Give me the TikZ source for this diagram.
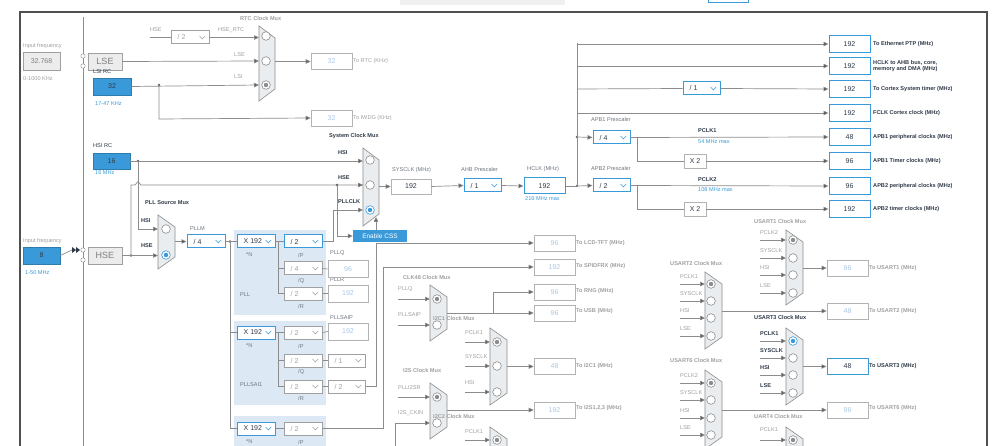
\documentclass[tikz,border=0pt]{standalone}
\usepackage{fontspec}
\setmainfont{Liberation Sans}
\usetikzlibrary{arrows.meta}
\definecolor{bl}{HTML}{3A9AD9}
\definecolor{ln}{HTML}{8C8C8C}
\definecolor{pale}{HTML}{A9C7E6}
\definecolor{reg}{HTML}{DCE9F5}
\definecolor{muxf}{HTML}{E9EDF0}
\definecolor{txt}{HTML}{2F3A48}
\definecolor{lt}{HTML}{A0A0A0}
\definecolor{frm}{HTML}{505050}
\tikzset{
 every node/.style={font=\fontsize{5.6}{6.5}\selectfont, inner sep=0pt},
 lab/.style={anchor=west, text=lt},
 dlab/.style={anchor=west, text=txt, font=\fontsize{5.6}{6.5}\selectfont\bfseries},
 tlab/.style={anchor=west, text=lt, font=\fontsize{5.6}{6.5}\selectfont\bfseries},
 olab/.style={anchor=west, text=txt, font=\fontsize{5.6}{6.5}\selectfont\bfseries, align=left},
 blab/.style={anchor=west, text=bl},
 box/.style={draw=lt!80, fill=white, minimum width=41pt, minimum height=16pt, text=pale, font=\fontsize{7}{8}\selectfont, line width=0.6pt},
 vbox/.style={box, text=txt},
 abox/.style={box, draw=bl, line width=1pt, text=txt},
 fbox/.style={box, fill=bl, draw=bl!80!black, text=txt},
 gbox/.style={box, fill=gray!15, draw=lt, text=gray},
 dd/.style={fill=white, minimum height=13pt, line width=1pt},
 wire/.style={draw=ln, line width=0.7pt},
 arr/.style={wire, -{Triangle[length=5pt,width=4.5pt,fill=ln!60!black]}},
 muxs/.style={draw=ln, fill=muxf, line width=0.6pt},
 dot/.style={circle, fill=ln!70!black, minimum size=2.6pt},
}
\newcommand\muxT[4]{\draw[muxs] (#1,#2) -- ({#1+#4},{#2+12}) -- ({#1+#4},{#3-12}) -- (#1,#3) -- cycle;}
\newcommand\circO[2]{\draw[ln,fill=white,line width=0.6pt] (#1,#2) circle[radius=4.3pt];}
\newcommand\circS[3]{\draw[#3,fill=white,line width=0.6pt] (#1,#2) circle[radius=4.3pt]; \fill[#3] (#1,#2) circle[radius=2.2pt];}
\newcommand\ddrop[7]{\node[dd,draw=#6,minimum width=#4pt] (#1) at (#2,#3) {};
 \node[anchor=west,text=#7,font=\fontsize{7}{8}\selectfont] at ([xshift=7pt]#1.west) {#5};
 \draw[#6,line width=0.5pt] ([xshift=-10pt,yshift=1.4pt]#1.east) -- ++(2.8,2.8) -- ++(2.8,-2.8);}
\begin{document}
\begin{tikzpicture}[x=1pt,y=-1pt]
\useasboundingbox (0,0) rectangle (998,446);
\clip (0,0) rectangle (998,446);
\fill[white] (0,0) rectangle (998,446);
% top strip
\fill[gray!12] (400,0) rectangle (565,5);
\draw[bl,line width=1pt] (708,-2) rectangle (748,3);
% frame
\draw[frm,line width=1.3pt] (20,450) -- (20,12) -- (987,12) -- (987,450);
\draw[ln,line width=0.7pt] (83,17) -- (83,450);
% light regions
\fill[reg] (234,230) rectangle (326,315);
\fill[reg] (234,321) rectangle (326,405);
\fill[reg] (234,416) rectangle (326,450);

% ---------- left inputs
\node[lab] at (23,46) {Input frequency};
\node[gbox,minimum width=37pt,minimum height=18pt] (lsefreq) at (41.5,61) {32.768};
\node[lab] at (23,79) {0-1000 KHz};
\node[gbox,minimum width=34pt,minimum height=17pt,font=\fontsize{9}{10}\selectfont] (lse) at (105,61.5) {LSE};
\draw[ln,fill=white] (83,56) circle[radius=2.2pt] (83,66) circle[radius=2.2pt];
\node[dlab,font=\fontsize{5.6}{6.5}\selectfont] at (93,72) {LSI RC};
\node[fbox,minimum width=38pt,minimum height=17pt] (lsi) at (112,86.5) {32};
\node[blab] at (95,104) {17-47 KHz};
\node[dlab,font=\fontsize{5.6}{6.5}\selectfont] at (93,146) {HSI RC};
\node[fbox,minimum width=37pt,minimum height=16pt] (hsi) at (111.5,161) {16};
\node[blab] at (95,173) {16 MHz};
\node[lab] at (23,241) {Input frequency};
\node[fbox,minimum width=37pt,minimum height=17pt] (hsefreq) at (41.5,255.5) {8};
\node[blab] at (25,273) {1-50 MHz};
\node[gbox,minimum width=34pt,minimum height=17pt,font=\fontsize{9}{10}\selectfont] (hse) at (105,255.5) {HSE};
\draw[ln,fill=white] (83,250) circle[radius=2.2pt] (83,260) circle[radius=2.2pt];
\fill[txt] (72,247) -- (76,250) -- (72,253) -- cycle (76,247) -- (80,250) -- (76,253) -- cycle;
\draw[wire] (hsefreq.east) -- (72,250);

% ---------- RTC
\node[tlab] at (240,19) {RTC Clock Mux};
\muxT{259}{26}{101}{16}
\circO{266}{36}\circO{266}{61}\circS{266}{85}{ln}
\node[lab] at (150,30) {HSE};
\ddrop{rtcdiv}{190}{37.5}{38}{/ 2}{lt}{lt}
\draw[wire] (150,37.5) -- (rtcdiv.west);
\draw[arr] (rtcdiv.east) -- (259,37.5);
\node[lab] at (218,30) {HSE\_RTC};
\draw[arr] (lse.east) -- (259,61);
\node[lab] at (234,55) {LSE};
\draw[arr] (lsi.east) -- (259,85);
\node[lab] at (234,77) {LSI};
\node[dot] (lsidot) at (159,85) {};
\node[box] (rtc) at (331.5,61.5) {32};
\node[box] (iwdg) at (331.5,118) {32};
\draw[arr] (lsidot.center) -- (159,119) -- (iwdg.west);
\draw[arr] (275,61.5) -- (rtc.west);
\node[lab] at (353,61.5) {To RTC (KHz)};
\node[lab] at (353,118) {To IWDG (KHz)};

% ---------- System clock mux
\node[dlab] at (329,136) {System Clock Mux};
\muxT{363}{148}{226}{16}
\circO{370}{160}\circO{370}{185}\circS{370}{210}{bl}
\node[dot] (hsidot) at (138,161) {};
\draw[arr] (hsi.east) -- (363,161);
\node[dlab] at (338,153) {HSI};
\node[dot] (hsedot) at (131,255.5) {};
\draw[arr] (hse.east) -- (158,255.5);
\draw[wire] (hsedot.center) -- (131,185) -- (135,185) -- (138,181.5) -- (141,185) -- (363,185);
\draw[arr] (362,185) -- (363,185);
\node[dlab] at (338,178) {HSE};
\node[dot] (csdot) at (337,185) {};
\node[fill=bl,text=white,minimum width=54pt,minimum height=12pt,font=\fontsize{6.5}{7}\selectfont] (css) at (380,236) {Enable CSS};
\draw[arr] (csdot.center) -- (337,236) -- (css.west);
\draw[arr] (376,230) -- (376,217);
\node[dlab] at (338,202) {PLLCLK};
\node[dlab] at (141,221) {HSI};
\node[dlab] at (141,246) {HSE};
\draw[arr] (hsidot.center) -- (138,229) -- (158,229);

% ---------- SYSCLK / AHB / HCLK
\node[lab,text=txt!70] at (392,170) {SYSCLK (MHz)};
\node[vbox,minimum width=40pt,minimum height=15pt] (sysclk) at (411,186.5) {192};
\draw[arr] (379,186.5) -- (sysclk.west);
\node[lab,text=txt!70] at (461,169) {AHB Prescaler};
\ddrop{ahb}{482.5}{185.5}{37}{/ 1}{bl}{txt}
\draw[arr] (sysclk.east) -- (ahb.west);
\node[lab,text=txt!70] at (527,169) {HCLK (MHz)};
\node[abox] (hclk) at (544.5,186) {192};
\node[blab] at (525,199) {216 MHz max};
\draw[arr] (ahb.east) -- (hclk.west);
\node[dot] (busb) at (577,186) {};
\node[dot] (apbdot) at (577,137) {};
\draw[wire] (hclk.east) -- (busb.center) -- (577,43);

% outputs
\foreach \n/\y/\v in {o1/44/192,o2/66/192,o3/89/192,o4/113/192,o5/137/48,o6/161/96,o7/186/96,o8/209/192}
  \node[abox,minimum height=17pt] (\n) at (849.5,\y) {\v};
\node[olab] at (873,44) {To Ethernet PTP (MHz)};
\node[olab] at (873,66) {HCLK to AHB bus, core,\\memory and DMA (MHz)};
\node[olab] at (873,89) {To Cortex System timer (MHz)};
\node[olab] at (873,113) {FCLK Cortex clock (MHz)};
\node[olab] at (873,137) {APB1 peripheral clocks (MHz)};
\node[olab] at (873,161) {APB1 Timer clocks (MHz)};
\node[olab] at (873,186) {APB2 peripheral clocks (MHz)};
\node[olab] at (873,209) {APB2 timer clocks (MHz)};
\draw[arr] (577,44) -- (o1.west);
\draw[arr] (577,66) -- (o2.west);
\ddrop{cortex}{701.5}{88.5}{37}{/ 1}{bl}{txt}
\draw[wire] (577,89) -- (cortex.west);
\draw[arr] (cortex.east) -- (o3.west);
\draw[arr] (577,113) -- (o4.west);
% APB1
\node[lab,text=txt!70] at (591,120) {APB1 Prescaler};
\ddrop{apb1}{611.5}{137.5}{37}{/ 4}{bl}{txt}
\draw[arr] (apbdot.center) -- (apb1.west);
\draw[arr] (apb1.east) -- (o5.west);
\node[dlab] at (698,131) {PCLK1};
\node[blab] at (698,142) {54 MHz max};
\node[vbox,minimum width=22pt,minimum height=14pt] (x2a) at (695,161) {X 2};
\draw[wire] (637,137) -- (637,161) -- (x2a.west);
\draw[arr] (x2a.east) -- (o6.west);
% APB2
\node[lab,text=txt!70] at (591,168) {APB2 Prescaler};
\ddrop{apb2}{611.5}{185.5}{37}{/ 2}{bl}{txt}
\draw[arr] (busb.center) -- (apb2.west);
\draw[arr] (apb2.east) -- (o7.west);
\node[dlab] at (698,180) {PCLK2};
\node[blab] at (698,190) {108 MHz max};
\node[vbox,minimum width=22pt,minimum height=14pt] (x2b) at (695,209) {X 2};
\draw[wire] (637,186) -- (637,209) -- (x2b.west);
\draw[arr] (x2b.east) -- (o8.west);

% ---------- PLL source mux
\node[dlab] at (145,203) {PLL Source Mux};
\muxT{158}{215}{269}{17}
\circO{166}{229}\circS{166}{255}{bl}
\node[lab,text=txt!70] at (190,229) {PLLM};
\ddrop{pllm}{206}{241.5}{38}{/ 4}{bl}{txt}
\draw[arr] (175,241.5) -- (pllm.west);
\node[dot] (ndot) at (230,241.5) {};
% PLL
\ddrop{xa}{256}{241.5}{38}{X 192}{bl}{txt}
\ddrop{pa}{303}{241.5}{38}{/ 2}{bl}{txt}
\ddrop{qa}{303}{268.5}{38}{/ 4}{lt}{lt}
\ddrop{ra}{303}{293.5}{38}{/ 2}{lt}{lt}
\draw[wire] (pllm.east) -- (xa.west);
\draw[wire] (ndot.center) -- (230,428.5) -- (256,428.5);
\draw[wire] (230,332.5) -- (237,332.5);
\draw[wire] (xa.east) -- (pa.west);
\draw[wire] (278,241.5) -- (278,293.5) -- (ra.west);
\draw[wire] (278,268.5) -- (qa.west);
\node[lab,text=txt!70] at (246,255) {*N};
\node[lab,text=txt!70] at (298,255) {/P};
\node[lab,text=txt!70] at (298,281) {/Q};
\node[lab,text=txt!70] at (298,306) {/R};
\node[lab,text=txt!70] at (240,295) {PLL};
\node[lab,text=txt!70] at (330,253) {PLLQ};
\node[lab,text=txt!70] at (330,280) {PLLR};
\node[box,minimum width=40pt,minimum height=17pt] (pllq) at (348,269) {96};
\node[box,minimum width=40pt,minimum height=17pt] (pllr) at (348,293.5) {192};
\draw[wire] (qa.east) -- (pllq.west);
\draw[wire] (ra.east) -- (pllr.west);
\draw[arr] (pa.east) -- (333,241.5) -- (333,210) -- (363,210);
% PLLSAI1
\ddrop{xb}{256}{332.5}{38}{X 192}{bl}{txt}
\ddrop{pb}{303}{332.5}{38}{/ 2}{lt}{lt}
\ddrop{qb}{303}{360.5}{38}{/ 2}{lt}{lt}
\ddrop{rb}{303}{386.5}{38}{/ 2}{lt}{lt}
\ddrop{db1}{346.5}{360.5}{37}{/ 1}{lt}{lt}
\ddrop{db2}{346.5}{386.5}{37}{/ 2}{lt}{lt}
\node[box,minimum width=40pt,minimum height=17pt] (saip) at (348,331.5) {192};
\draw[wire] (xb.east) -- (pb.west);
\draw[wire] (278,332.5) -- (278,386.5) -- (rb.west);
\draw[wire] (278,360.5) -- (qb.west);
\draw[wire] (pb.east) -- (saip.west);
\draw[wire] (qb.east) -- (db1.west);
\draw[wire] (rb.east) -- (db2.west);
\node[lab,text=txt!70] at (246,346) {*N};
\node[lab,text=txt!70] at (298,346) {/P};
\node[lab,text=txt!70] at (298,372) {/Q};
\node[lab,text=txt!70] at (298,398) {/R};
\node[lab,text=txt!70] at (240,385) {PLLSAI1};
\node[lab,text=txt!70] at (330,318) {PLLSAIP};
% third PLL
\ddrop{xc}{256}{428.5}{38}{X 192}{bl}{txt}
\ddrop{pc}{303}{428.5}{38}{/ 2}{lt}{lt}
\draw[wire] (xc.east) -- (pc.west);
\node[lab,text=txt!70] at (246,442) {*N};
\node[lab,text=txt!70] at (298,442) {/P};

% ---------- middle outputs
\node[box] (lcd) at (554.5,243) {96};
\node[box] (spdif) at (554.5,267) {192};
\node[box] (rng) at (554.5,292) {96};
\node[box] (usb) at (554.5,313) {96};
\node[box] (i2c1o) at (554.5,366.5) {48};
\node[box] (i2so) at (554.5,410) {192};
\node[tlab] at (576,243) {To LCD-TFT (MHz)};
\node[tlab] at (576,266) {To SPIDFRX (MHz)};
\node[tlab] at (576,291) {To RNG (MHz)};
\node[tlab] at (576,311) {To USB (MHz)};
\node[tlab] at (576,366) {To I2C1 (MHz)};
\node[tlab] at (576,408) {To I2S1,2,3 (MHz)};
\draw[arr] (db2.east) -- (376,386.5) -- (376,243) -- (lcd.west);
\draw[arr] (pc.east) -- (383,428.5) -- (383,267) -- (spdif.west);
% CLK48
\node[tlab] at (403,277) {CLK48 Clock Mux};
\muxT{430}{285}{341}{17}
\circS{437}{299}{ln}\circO{437}{325}
\node[lab] at (398,289) {PLLQ};
\node[lab] at (398,315) {PLLSAIP};
\draw[arr] (398,299) -- (430,299);
\draw[arr] (398,325) -- (430,325);
\draw[arr] (447,313) -- (usb.west);
\draw[arr] (493,313) -- (493,292) -- (rng.west);
% I2C1
\node[tlab] at (433,318) {I2C1 Clock Mux};
\muxT{490}{328}{405}{17}
\circS{497}{342}{ln}\circO{497}{366}\circO{497}{392}
\node[lab] at (465,333) {PCLK1};
\node[lab] at (465,357) {SYSCLK};
\node[lab] at (465,383) {HSI};
\draw[arr] (465,342) -- (490,342);
\draw[arr] (465,366) -- (490,366);
\draw[arr] (465,392) -- (490,392);
\draw[arr] (507,366.5) -- (i2c1o.west);
% I2S
\node[tlab] at (403,370) {I2S Clock Mux};
\muxT{430}{383}{439}{17}
\circS{437}{397}{ln}\circO{437}{423}
\node[lab] at (398,388) {PLLI2SR};
\node[lab] at (398,413) {I2S\_CKIN};
\draw[arr] (398,397) -- (430,397);
\draw[arr] (395,450) -- (395,423) -- (430,423);
\draw[arr] (447,410) -- (i2so.west);
% I2C2
\node[tlab] at (433,416) {I2C2 Clock Mux};
\muxT{490}{427}{480}{17}
\circS{497}{440}{ln}
\node[lab] at (465,432) {PCLK1};
\draw[arr] (465,440) -- (490,440);

% ---------- USART
\node[box] (u1) at (847.5,268) {96};
\node[box] (u2) at (847.5,311) {48};
\node[abox] (u3) at (847.5,366.5) {48};
\node[box] (u6) at (847.5,410) {96};
\node[tlab] at (869,268) {To USART1 (MHz)};
\node[tlab] at (869,311) {To USART2 (MHz)};
\node[olab] at (869,366) {To USART3 (MHz)};
\node[tlab] at (869,408) {To USART6 (MHz)};
% USART1
\node[tlab] at (754,221) {USART1 Clock Mux};
\muxT{786}{230}{305}{17}
\circS{793}{240}{ln}\circO{793}{258}\circO{793}{275}\circO{793}{293}
\foreach \t/\y in {PCLK2/240,SYSCLK/258,HSI/275,LSE/293}{
  \node[lab] at (760,\y-7) {\t}; \draw[arr] (760,\y) -- (786,\y);}
\draw[arr] (803,268) -- (u1.west);
% USART2
\node[tlab] at (670,263) {USART2 Clock Mux};
\muxT{705}{272}{349}{17}
\circS{711}{284}{ln}\circO{711}{301}\circO{711}{318}\circO{711}{336}
\foreach \t/\y in {PCLK1/284,SYSCLK/301,HSI/318,LSE/336}{
  \node[lab] at (680,\y-7) {\t}; \draw[arr] (680,\y) -- (705,\y);}
\draw[arr] (722,311) -- (u2.west);
% USART3
\node[dlab] at (754,318) {USART3 Clock Mux};
\muxT{786}{328}{405}{17}
\circS{793}{341}{bl}\circO{793}{358}\circO{793}{375}\circO{793}{393}
\foreach \t/\y in {PCLK1/341,SYSCLK/358,HSI/375,LSE/393}{
  \node[dlab] at (760,\y-7) {\t}; \draw[arr] (760,\y) -- (786,\y);}
\draw[arr] (803,366.5) -- (u3.west);
% USART6
\node[tlab] at (670,360) {USART6 Clock Mux};
\muxT{705}{370}{449}{17}
\circS{711}{383}{ln}\circO{711}{400}\circO{711}{418}\circO{711}{435}
\foreach \t/\y in {PCLK2/383,SYSCLK/400,HSI/418,LSE/435}{
  \node[lab] at (680,\y-7) {\t}; \draw[arr] (680,\y) -- (705,\y);}
\draw[arr] (722,410) -- (u6.west);
% UART4
\node[tlab] at (754,416) {UART4 Clock Mux};
\muxT{786}{427}{480}{17}
\circS{793}{440}{ln}
\node[lab] at (760,430) {PCLK1};
\draw[arr] (760,440) -- (786,440);
\end{tikzpicture}
\end{document}
